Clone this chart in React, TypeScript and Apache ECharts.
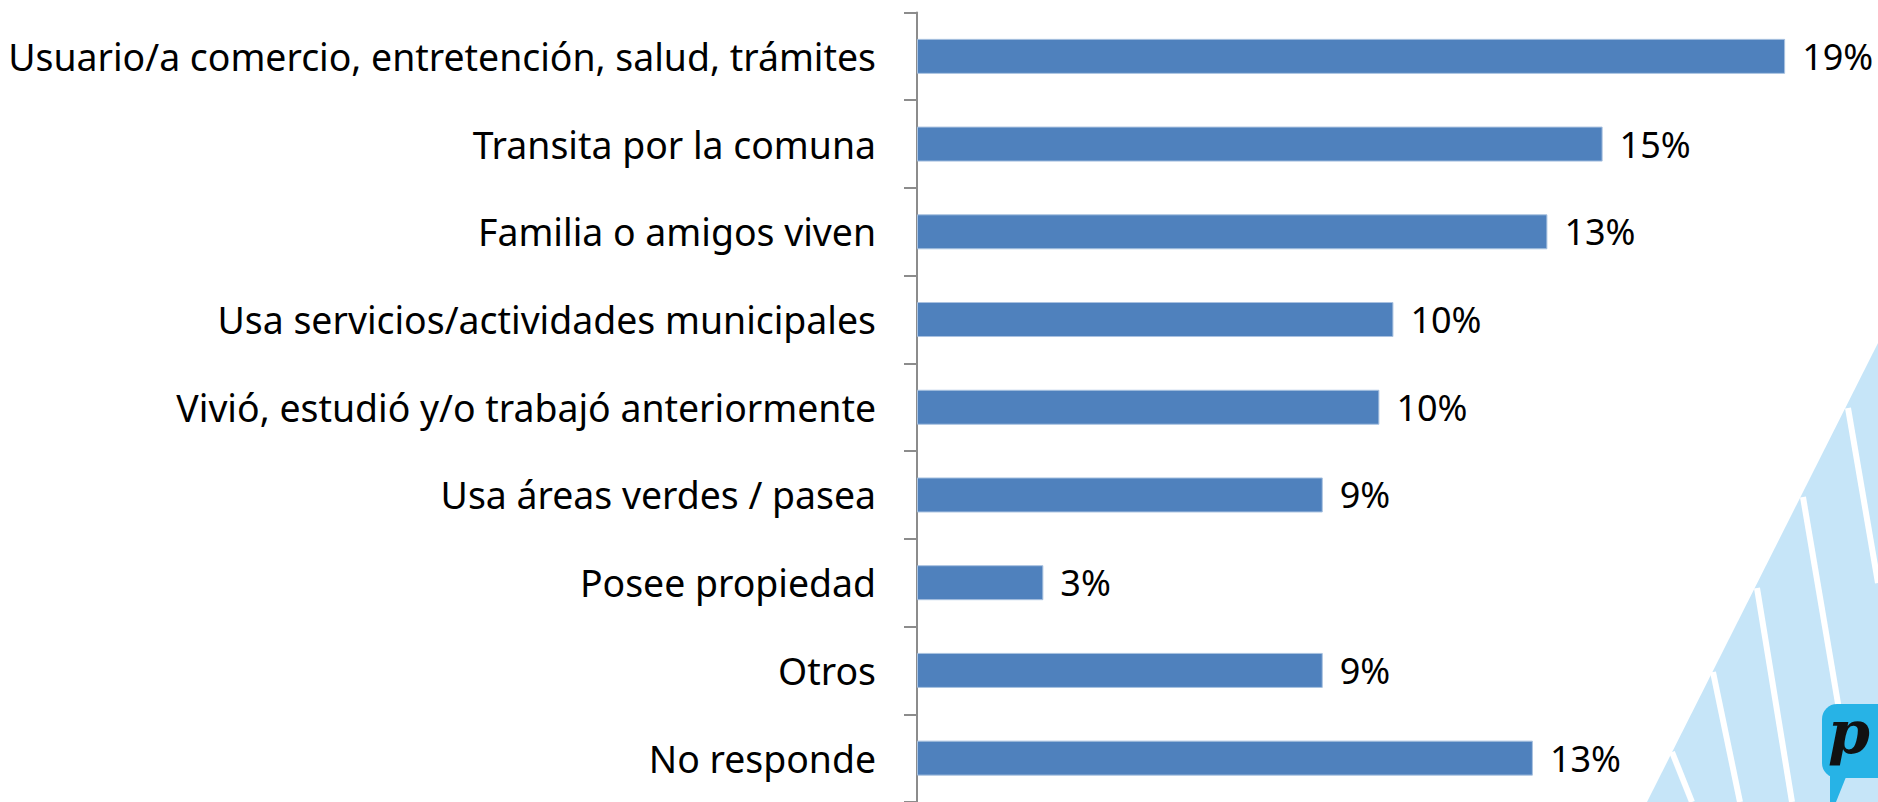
import React, { useEffect, useRef } from "react";
import * as echarts from "echarts";

const categories = [
  "Usuario/a comercio, entretención, salud, trámites",
  "Transita por la comuna",
  "Familia o amigos viven",
  "Usa servicios/actividades municipales",
  "Vivió, estudió y/o trabajó anteriormente",
  "Usa áreas verdes / pasea",
  "Posee propiedad",
  "Otros",
  "No responde",
];

const values = [18.55, 14.65, 13.47, 10.18, 9.88, 8.67, 2.7, 8.67, 13.16];

const FONT = "'Noto Sans', 'Open Sans', sans-serif";

export default function App() {
  const ref = useRef<HTMLDivElement>(null);

  useEffect(() => {
    if (!ref.current) return;
    const chart = echarts.init(ref.current, undefined, { renderer: "svg" });

    const stripeColor = "#c6e5f8";
    const gapLines = [
      [[1672, 752], [1692, 802]],
      [[1713, 672], [1740, 802]],
      [[1757, 588], [1792, 802]],
      [[1803, 497], [1843, 733]],
      [[1848, 408], [1878, 583]],
    ];

    chart.setOption({
      animation: false,
      backgroundColor: "#ffffff",
      graphic: [
        {
          type: "polygon",
          z: -10,
          silent: true,
          shape: { points: [[1647, 802], [1878, 343], [1878, 802]] },
          style: { fill: stripeColor },
        },
        ...gapLines.map((l) => ({
          type: "line",
          z: -9,
          silent: true,
          shape: { x1: l[0][0], y1: l[0][1], x2: l[1][0], y2: l[1][1] },
          style: { stroke: "#ffffff", lineWidth: 6 },
        })),
        {
          type: "rect",
          z: -8,
          silent: true,
          shape: { x: 1822, y: 704, width: 70, height: 74, r: 15 },
          style: { fill: "#27b3e6" },
        },
        {
          type: "polygon",
          z: -8,
          silent: true,
          shape: { points: [[1830, 772], [1848, 772], [1836, 802], [1830, 802]] },
          style: { fill: "#27b3e6" },
        },
        {
          type: "text",
          z: -7,
          silent: true,
          x: 1828,
          y: 702,
          style: {
            text: "p",
            fill: "#111111",
            font: "italic bold 60px 'DejaVu Serif', serif",
          },
        },
      ],
      grid: {
        left: 917,
        top: 12.5,
        width: 936,
        height: 792,
        containLabel: false,
      },
      xAxis: {
        type: "value",
        min: 0,
        max: 20,
        show: false,
      },
      yAxis: {
        type: "category",
        inverse: true,
        data: categories,
        axisLine: { show: true, lineStyle: { color: "#8c8c8c", width: 2 } },
        axisTick: { show: true, length: 13, lineStyle: { color: "#8c8c8c", width: 2 } },
        axisLabel: {
          margin: 41,
          fontSize: 37.4,
          fontFamily: FONT,
          color: "#000000",
        },
        splitLine: { show: false },
      },
      series: [
        {
          type: "bar",
          data: values,
          barWidth: 35,
          itemStyle: { color: "#4f81bd", borderColor: "#a9c2e0", borderWidth: 1 },
          label: {
            show: true,
            position: "right",
            distance: 17,
            fontSize: 36,
            fontFamily: FONT,
            color: "#000000",
            formatter: (p: any) => Math.round(p.value) + "%",
          },
        },
      ],
    });

    return () => chart.dispose();
  }, []);

  return (
    <div
      ref={ref}
      style={{ position: "fixed", left: 0, top: 0, width: 1878, height: 802 }}
    />
  );
}
